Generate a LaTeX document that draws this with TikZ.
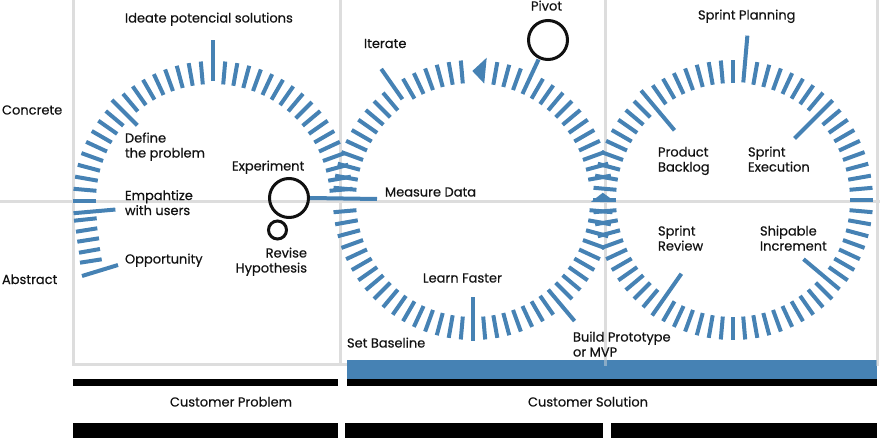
\documentclass[tikz,border=0pt]{standalone}
\usepackage{fontspec}
\setmainfont{Poppins}[FakeBold=0.4]
\definecolor{tickblue}{RGB}{70,130,180}
\definecolor{gridgray}{RGB}{221,221,221}
\definecolor{ink}{RGB}{17,17,17}
\begin{document}
\begin{tikzpicture}[x=1pt,y=-1pt,
  lbl/.style={inner sep=0pt, outer sep=0pt, text=ink, font=\fontsize{13}{15}\selectfont},
  tick/.style={draw=tickblue, line width=4pt},
  gridline/.style={draw=gridgray, line width=3pt},
  hollow/.style={circle, draw=ink, line width=3pt, inner sep=0pt},
  bar/.style={fill=black, draw=none},
]
\useasboundingbox (0,0) rectangle (880,439);

% quadrant grid
\draw[gridline] (0,201) -- (880,201);
\draw[gridline] (73,0) -- (73,365);
\draw[gridline] (340,0) -- (340,365);
\draw[gridline] (605,0) -- (605,366);
\draw[gridline] (877,0) -- (877,366);
\draw[gridline] (72,364) -- (347,364);

% ring 1: design thinking (open arc)
\begin{scope}[shift={(213,201)}, yscale=-1]
  \foreach \a in {5,10,...,85,95,100,...,130,140,145,...,180}
    \draw[tick] (\a:117) -- (\a:140);
  \draw[tick] (90:120) -- (90:161);
  \draw[tick] (135:107) -- (135:143);
  \draw[tick] (185:98) -- (185:140);
\end{scope}
\draw[tick] (74,220.7) -- (96.7,218.3);
\draw[tick] (76,231.7) -- (97.3,228.3);
\draw[tick] (77.3,241.7) -- (99,238.3);
\draw[tick] (79,252.7) -- (100,249);
\draw[tick] (80,262.7) -- (101.7,259.3);
\draw[tick] (82,276) -- (118,265);

% ring 2: lean startup loop
\begin{scope}[shift={(473,200)}, yscale=-1]
  \foreach \a in {10,15,...,60,70,75,80,95,100,...,120,130,135,...,175,185,190,...,265,275,280,...,305,315,320,...,355}
    \draw[tick] (\a:117) -- (\a:140);
  \draw[tick] (125:123) -- (125:160);
  \draw[tick] (270:97) -- (270:141);
  \draw[tick] (310:117) -- (310:158);
  \draw[tick] (65:117) -- (65:155);
  \fill[tickblue] (84.5:117) -- (84.5:143) -- (90.3:129) -- cycle;
  \fill[tickblue] (-0.9:118) -- (-0.9:143) -- (3.2:130) -- cycle;
\end{scope}

% ring 3: agile sprint loop
\begin{scope}[shift={(733,200)}, yscale=-1]
  \foreach \a in {0,5,...,40,50,55,...,80,90,95,...,125,135,140,...,230,240,245,...,315,325,330,...,355}
    \draw[tick] (\a:117) -- (\a:140);
  \draw[tick] (85:118) -- (85:165);
  \draw[tick] (130:91) -- (130:143);
  \draw[tick] (45:87) -- (45:141);
  \draw[tick] (235:90) -- (235:141);
  \draw[tick] (320:92) -- (320:139);
\end{scope}

% experiment / hypothesis / pivot markers
\node[hollow, minimum size=39pt] (exp) at (289,198) {};
\node[hollow, minimum size=18pt] (rev) at (277.5,230) {};
\node[hollow, minimum size=39pt] (pivot) at (548,40) {};
\coordinate (measureend) at (377,199);
\draw[tick] (exp.east) -- (measureend);

% bars at the bottom
\fill[tickblue] (347,360) rectangle (877,379);
\draw[gridline, opacity=0.45] (605,360) -- (605,366);
\draw[gridline, opacity=0.45] (877,360) -- (877,366);
\fill[bar] (73,379) rectangle (338,386);
\fill[bar] (347,379) rectangle (877,386);
\fill[bar] (73,423) rectangle (338,438);
\fill[bar] (345,423) rectangle (603,438);
\fill[bar] (611,423) rectangle (877,438);

% labels (multi-line blocks are anchored on their last baseline)
\node[lbl, anchor=base west] (ideate) at (125,22.5) {Ideate potencial solutions};
\node[lbl, anchor=base west] (concrete) at (2,114.5) {Concrete};
\node[lbl, anchor=base west] (abstract) at (2,284) {Abstract};
\node[lbl, anchor=base west, align=left] (define) at (125,157.5) {Define\\the problem};
\node[lbl, anchor=base west, align=left] (empathize) at (125,215) {Empahtize\\with users};
\node[lbl, anchor=base west] (opportunity) at (125,263.5) {Opportunity};
\node[lbl, anchor=base west] (experiment) at (232,170.5) {Experiment};
\node[lbl, anchor=base east, align=right] (revise) at (307,272.5) {Revise\\Hypothesis};
\node[lbl, anchor=base west] (iterate) at (364,48) {Iterate};
\node[lbl, anchor=base west] (pivotlbl) at (531,10.5) {Pivot};
\node[lbl, anchor=base west] (measure) at (385,196.5) {Measure Data};
\node[lbl, anchor=base west] (learn) at (423,282.5) {Learn Faster};
\node[lbl, anchor=base west] (baseline) at (347,347.5) {Set Baseline};
\node[lbl, anchor=base west, align=left] (build) at (573,356.5) {Build Prototype\\or MVP};
\node[lbl, anchor=base west] (planning) at (698,19.5) {Sprint Planning};
\node[lbl, anchor=base west, align=left] (backlog) at (658,171.5) {Product\\Backlog};
\node[lbl, anchor=base west, align=left] (execution) at (748,171.5) {Sprint\\Execution};
\node[lbl, anchor=base west, align=left] (review) at (658,250.5) {Sprint\\Review};
\node[lbl, anchor=base west, align=left] (shipable) at (760,250.5) {Shipable\\Increment};
\node[lbl, anchor=base] (problem) at (231,406.5) {Customer Problem};
\node[lbl, anchor=base] (solution) at (588,406.5) {Customer Solution};
\end{tikzpicture}
\end{document}
